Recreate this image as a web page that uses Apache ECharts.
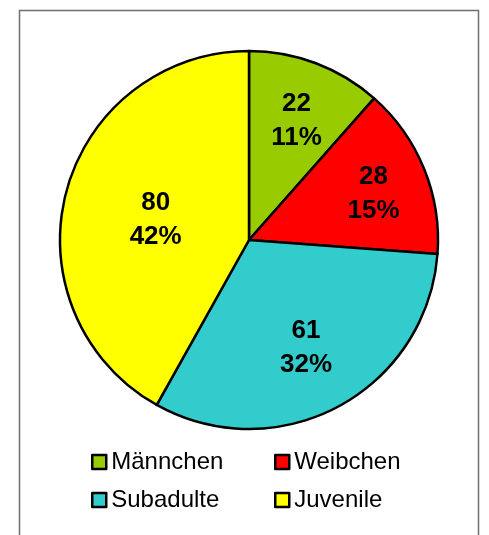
<!DOCTYPE html>
<html>
<head>
<meta charset="utf-8">
<script src="https://cdn.jsdelivr.net/npm/echarts@6/dist/echarts.min.js"></script>
<style>
  html, body { margin: 0; padding: 0; background: #fff; }
  #chart { width: 489px; height: 535px; }
</style>
</head>
<body>
<div id="chart"></div>
<script>
  // Daten
  var names = ['Männchen', 'Weibchen', 'Subadulte', 'Juvenile']
  var values = [22, 28, 61, 80]
  var colors = ['#99cc00', '#ff0000', '#33cccc', '#ffff00']

  // Label-Abstand vom Mittelpunkt (Anteil am Radius), wie im Original
  var labelPos = [0.68, 0.69, 0.61, 0.5]

  var R = 189
  var total = values.reduce(function (a, b) { return a + b }, 0)

  var myChart = echarts.init(document.getElementById('chart'))

  var arr = []
  for (var i = 0; i < names.length; i++) {
    arr.push({ name: names[i], value: values[i], itemStyle: { color: colors[i] } })
  }

  var legendStyle = {
    orient: 'vertical',
    top: 450,
    padding: 0,
    itemGap: 14,
    itemWidth: 14,
    itemHeight: 14,
    icon: 'rect',
    itemStyle: { borderColor: '#000', borderWidth: 2.5 },
    textStyle: { fontFamily: 'Liberation Sans, Arial', fontSize: 24, color: '#000' }
  }

  var option = {
    backgroundColor: '#fff',
    animation: false,
    graphic: [{
      type: 'rect',
      shape: { x: 19.5, y: 10.5, width: 459, height: 560 },
      style: { fill: 'none', stroke: '#6e6e6e', lineWidth: 1.5 }
    }],
    legend: [
      Object.assign({ left: 91, data: ['Männchen', 'Subadulte'] }, legendStyle),
      Object.assign({ left: 274, data: ['Weibchen', 'Juvenile'] }, legendStyle)
    ],
    series: [{
      type: 'pie',
      center: [249, 240],
      radius: [0, R],
      startAngle: 90,
      clockwise: true,
      silent: true,
      percentPrecision: 0,
      itemStyle: { borderColor: '#000', borderWidth: 2.5 },
      label: {
        show: true,
        position: 'inside',
        formatter: '{c}\n{d}%',
        fontFamily: 'Liberation Sans, Arial',
        fontWeight: 'bold',
        fontSize: 26,
        lineHeight: 34,
        color: '#000'
      },
      labelLine: { show: false },
      labelLayout: function (params) {
        var idx = params.dataIndex
        var before = 0
        for (var k = 0; k < idx; k++) before += values[k]
        var mid = (before + values[idx] / 2) / total * Math.PI * 2
        var shift = labelPos[idx] * R - R / 2
        return { dx: Math.sin(mid) * shift + 1, dy: -Math.cos(mid) * shift + 4 }
      },
      data: arr
    }]
  }
  myChart.setOption(option)
</script>
</body>
</html>
